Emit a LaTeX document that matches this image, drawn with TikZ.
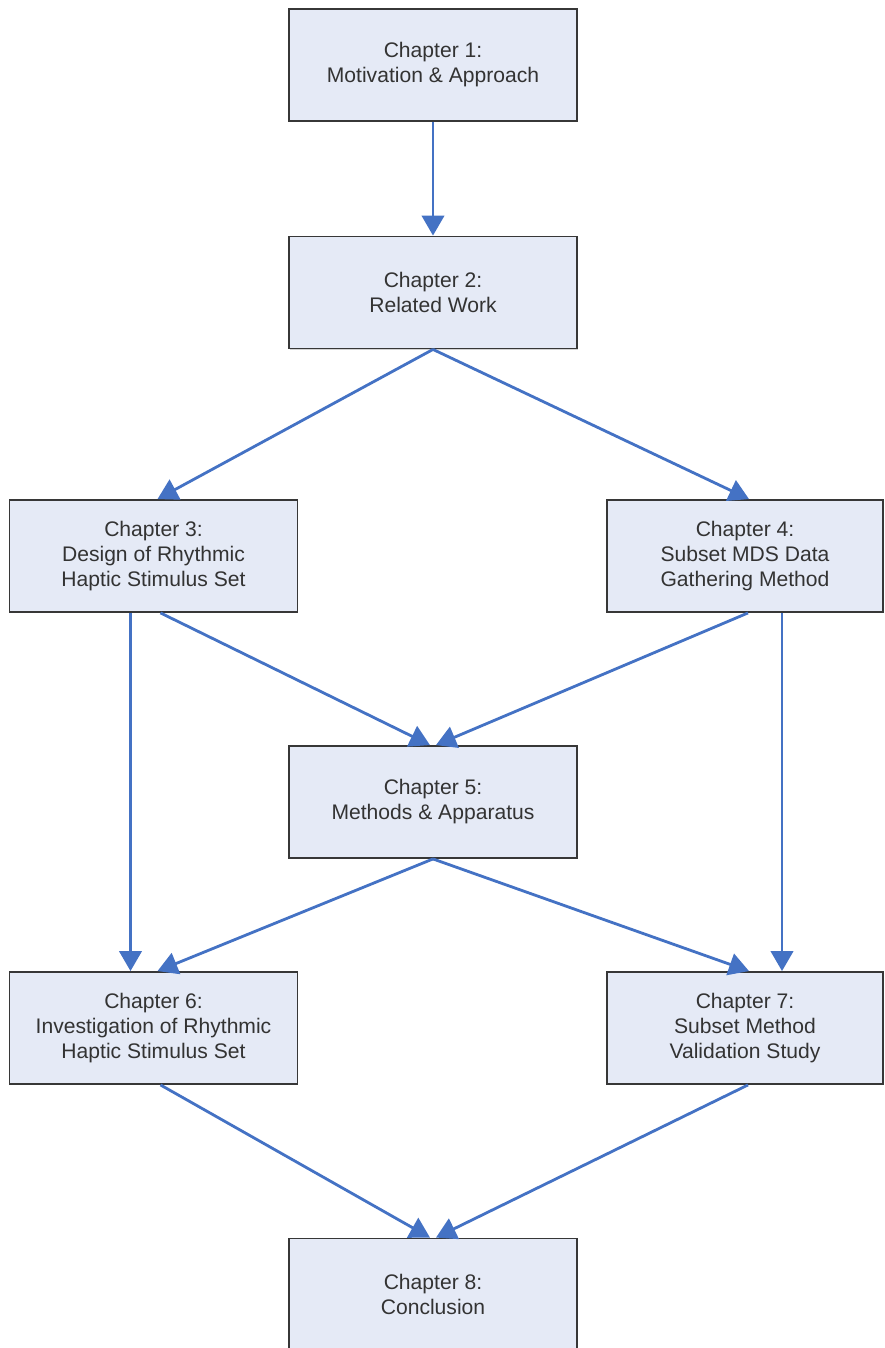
\documentclass[tikz,border=0pt]{standalone}
\usepackage{fontspec}
\setmainfont{Liberation Sans}
\usetikzlibrary{arrows.meta,positioning,calc,shadows}
\definecolor{cbox}{RGB}{229,234,246}
\definecolor{cline}{RGB}{68,114,196}
\definecolor{cedge}{RGB}{55,55,55}

\begin{document}
\begin{tikzpicture}[x=0.025cm,y=-0.025cm,
    chap/.style={draw=cedge, line width=1.3pt, fill=cbox, minimum width=7.2cm,
      minimum height=2.8cm, align=center, text=black!80, inner sep=0pt,
      font=\fontsize{15}{17.8}\selectfont,
      drop shadow={shadow xshift=0.6pt, shadow yshift=-0.8pt, opacity=0.35}},
    flow/.style={-{Triangle[width=5.6mm,length=5mm]}, cline, line width=2pt}]
    \useasboundingbox (0,0) rectangle (885,1348);
    % chapters
    \node[chap] (ch1) at (433,65) {Chapter 1:\\Motivation \& Approach};
    \node[chap] (ch2) at (433,292.5) {Chapter 2:\\Related Work};
    \node[chap] (ch3) at (153.5,556) {Chapter 3:\\Design of Rhythmic\\Haptic Stimulus Set};
    \node[chap, minimum width=6.9cm] (ch4) at (745,556) {Chapter 4:\\Subset MDS Data\\Gathering Method};
    \node[chap] (ch5) at (433,802) {Chapter 5:\\Methods \& Apparatus};
    \node[chap] (ch6) at (153.5,1028) {Chapter 6:\\Investigation of Rhythmic\\Haptic Stimulus Set};
    \node[chap, minimum width=6.9cm] (ch7) at (745,1028) {Chapter 7:\\Subset Method\\Validation Study};
    \node[chap] (ch8) at (433,1294.5) {Chapter 8:\\Conclusion};
    % dependencies
    \draw[flow] (ch1) -- (ch2);
    \draw[flow] (ch2.south) -- ([xshift=0.1cm]ch3.north);
    \draw[flow] (ch2.south) -- ([xshift=0.1cm]ch4.north);
    \draw[flow] ([xshift=0.175cm]ch3.south) -- ([xshift=-0.075cm]ch5.north);
    \draw[flow] ([xshift=0.075cm]ch4.south) -- ([xshift=0.075cm]ch5.north);
    \draw[flow] ([xshift=-0.575cm]ch3.south) -- ([xshift=-0.575cm]ch6.north);
    \draw[flow] ([xshift=0.925cm]ch4.south) -- ([xshift=0.925cm]ch7.north);
    \draw[flow] (ch5.south) -- ([xshift=0.1cm]ch6.north);
    \draw[flow] (ch5.south) -- ([xshift=0.1cm]ch7.north);
    \draw[flow] ([xshift=0.175cm]ch6.south) -- ([xshift=-0.075cm]ch8.north);
    \draw[flow] ([xshift=0.075cm]ch7.south) -- ([xshift=0.075cm]ch8.north);
\end{tikzpicture}
\end{document}
